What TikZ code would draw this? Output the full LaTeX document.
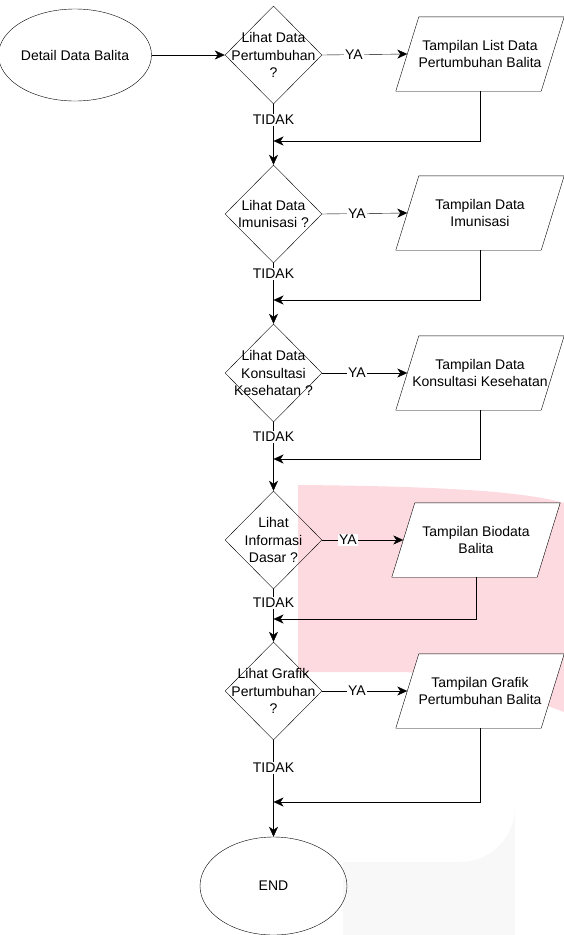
\documentclass[tikz,border=0pt]{standalone}
\usepackage{fontspec}
\setmainfont{Liberation Sans}
\usetikzlibrary{shapes.geometric,arrows.meta}
\pgfdeclarelayer{bgpink}
\pgfdeclarelayer{para}
\pgfsetlayers{bgpink,para,main}
\definecolor{wmpink}{RGB}{253,218,224}
\definecolor{wmgray}{RGB}{248,248,248}
\newcommand\ioshape[1]{%
  \begin{pgfonlayer}{para}
    \draw[fill=white] ([xshift=11.5pt]#1.north west) -- ([xshift=11.5pt]#1.north east)
      -- ([xshift=-11.5pt]#1.south east) -- ([xshift=-11.5pt]#1.south west) -- cycle;
  \end{pgfonlayer}}
\begin{document}
\begin{tikzpicture}[x=1pt,y=-1pt,
  font=\fontsize{14}{17.5}\selectfont,
  line width=1.3pt,
  arr/.style={-{Stealth[length=10pt,width=9pt,inset=3pt]}},
  startend/.style={ellipse, draw, inner sep=0pt},
  decision/.style={diamond, draw, minimum width=97pt, minimum height=98pt, inner sep=0pt},
  dtext/.style={align=center, inner sep=0pt},
  iobox/.style={rectangle, minimum width=145pt, minimum height=74pt, inner sep=0pt, align=center},
  lbl/.style={fill=white, inner sep=1.5pt},
]
\useasboundingbox (0,0) rectangle (564,935);
% watermark shapes
\begin{pgfonlayer}{bgpink}
  \fill[wmpink] (298,485) .. controls (420,486) and (520,490) .. (564,503)
    -- (564,712) .. controls (500,688) and (450,673) .. (400,672) -- (298,672) -- cycle;
  \fill[wmgray] (343,935) -- (343,862) -- (460,862) arc[start angle=90, end angle=0, radius=55] -- (515,935) -- cycle;
\end{pgfonlayer}

% start
\node[startend, minimum width=142pt, minimum height=92pt] (start) at (75,55) {Detail Data Balita};

% decisions
\node[decision] (d1) at (273.5,55) {};
\node[dtext] (d1t) at (d1.center) {Lihat Data\\Pertumbuhan\\?};
\node[decision] (d2) at (273.5,214) {};
\node[dtext] (d2t) at (d2.center) {Lihat Data\\Imunisasi ?};
\node[decision] (d3) at (273.5,373) {};
\node[dtext] (d3t) at (d3.center) {Lihat Data\\Konsultasi\\Kesehatan ?};
\node[decision] (d4) at (273.5,540) {};
\node[dtext] (d4t) at (d4.center) {Lihat\\Informasi\\Dasar ?};
\node[decision] (d5) at (273.5,691) {};
\node[dtext] (d5t) at (d5.center) {Lihat Grafik\\Pertumbuhan\\?};

% outputs
\node[iobox] (p1) at (480,54) {Tampilan List Data\\Pertumbuhan Balita};
\ioshape{p1}
\node[iobox] (p2) at (480,213) {Tampilan Data\\Imunisasi};
\ioshape{p2}
\node[iobox] (p3) at (480,373) {Tampilan Data\\Konsultasi Kesehatan};
\ioshape{p3}
\node[iobox] (p4) at (476,540) {Tampilan Biodata\\Balita};
\ioshape{p4}
\node[iobox] (p5) at (480,691) {Tampilan Grafik\\Pertumbuhan Balita};
\ioshape{p5}

% end
\node[startend, minimum width=147pt, minimum height=98pt] (end) at (273.5,886) {END};

% return points
\coordinate (r1) at (273.5,141);
\coordinate (r2) at (273.5,300);
\coordinate (r3) at (273.5,459);
\coordinate (r4) at (273.5,619);
\coordinate (r5) at (273.5,802);

% connectors
\draw[arr] (start.east) -- (d1.west);
\draw[arr] (d1.east) -- (p1.west);
\draw[arr] (d2.east) -- (p2.west);
\draw[arr] (d3.east) -- (p3.west);
\draw[arr] (d4.east) -- (p4.west);
\draw[arr] (d5.east) -- (p5.west);

\draw[arr] (d1.south) -- (d2.north);
\draw[arr] (d2.south) -- (d3.north);
\draw[arr] (d3.south) -- (d4.north);
\draw[arr] (d4.south) -- (d5.north);
\draw[arr] (d5.south) -- (end.north);

\draw[arr] (p1.south) |- (r1);
\draw[arr] (p2.south) |- (r2);
\draw[arr] (p3.south) |- (r3);
\draw[arr] (p4.south) |- (r4);
\draw[arr] (p5.south) |- (r5);

% labels
\node[lbl] (y1) at (354,55) {YA};
\node[lbl] (y2) at (357,214) {YA};
\node[lbl] (y3) at (357,373) {YA};
\node[lbl] (y4) at (348,540) {YA};
\node[lbl] (y5) at (357,691) {YA};
\node[lbl] (t1) at (273.5,120) {TIDAK};
\node[lbl] (t2) at (273.5,274) {TIDAK};
\node[lbl] (t3) at (273.5,437) {TIDAK};
\node[lbl] (t4) at (273.5,603) {TIDAK};
\node[lbl] (t5) at (273.5,768) {TIDAK};
\end{tikzpicture}
\end{document}
